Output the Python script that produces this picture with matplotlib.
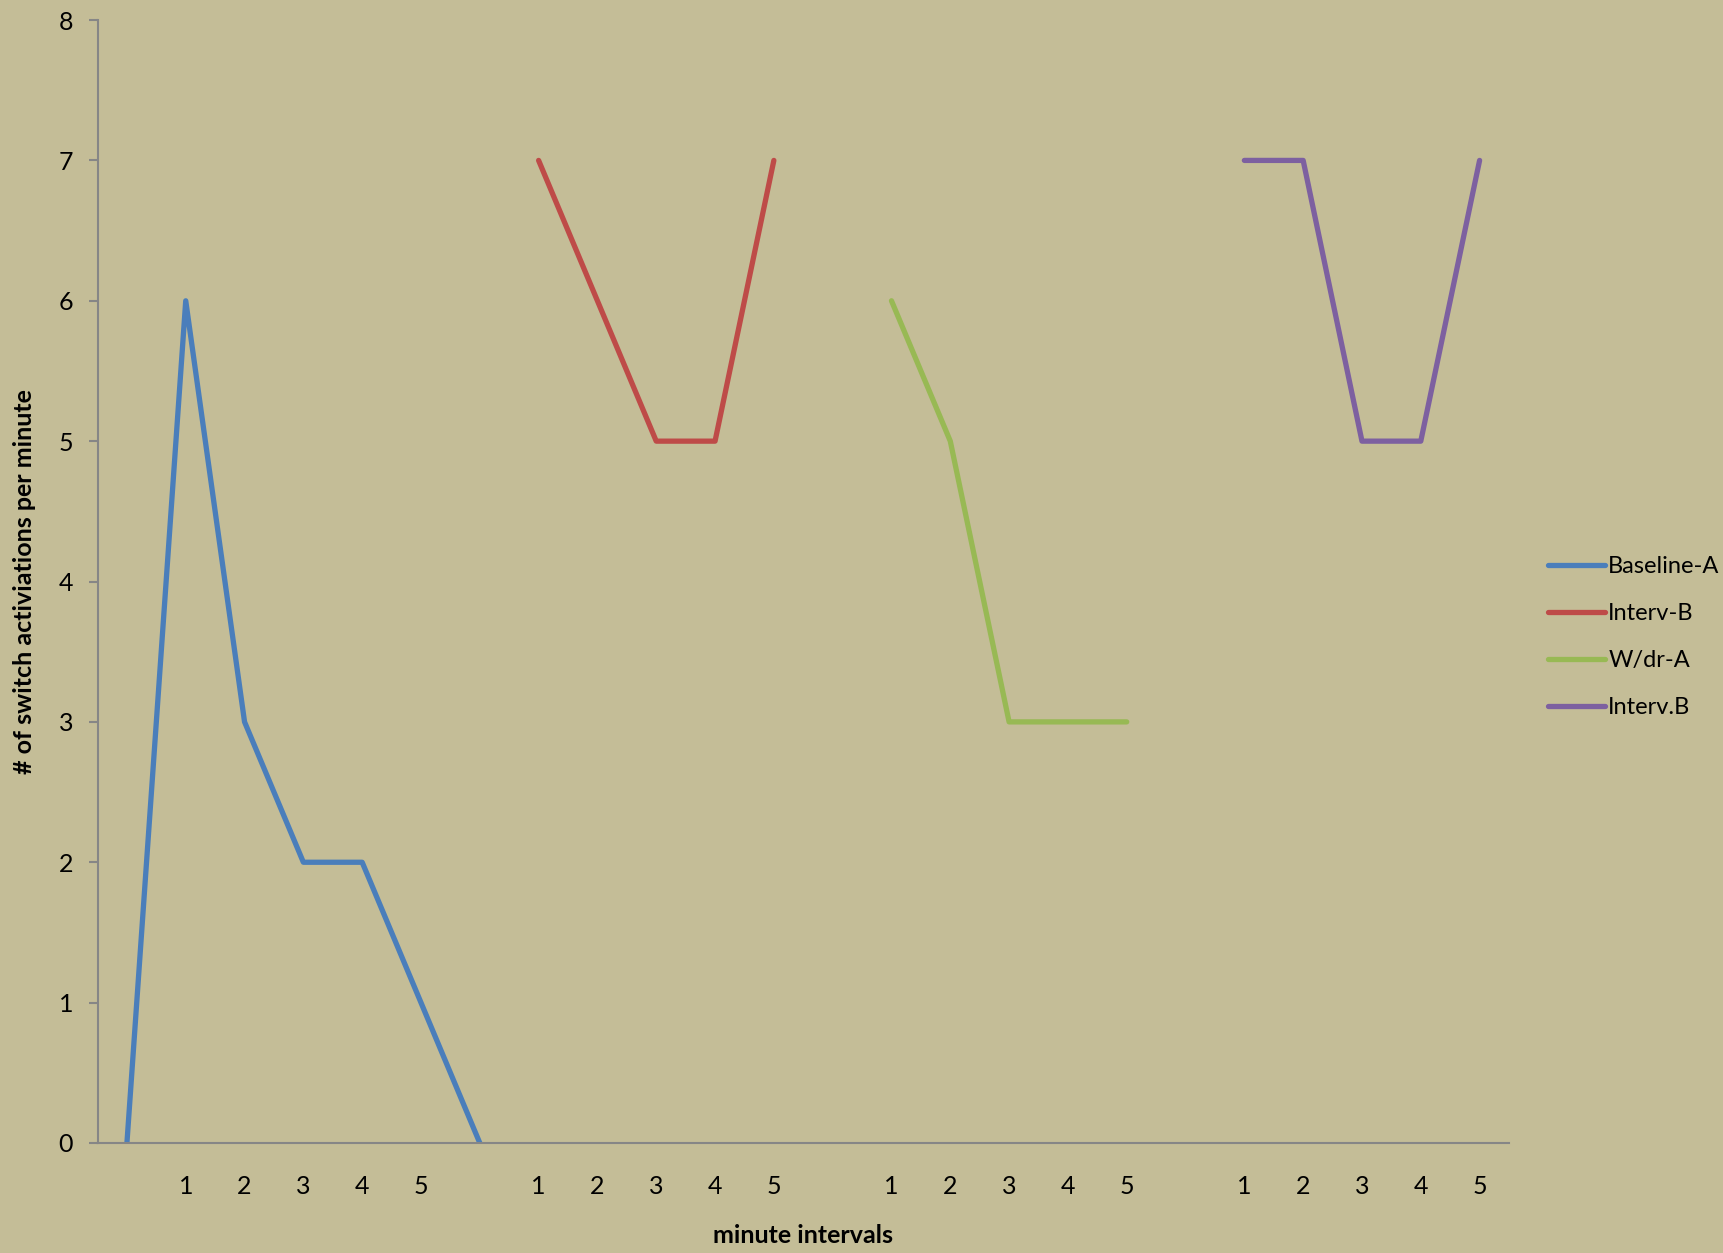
import numpy as np
import matplotlib.pyplot as plt

# ------------------------------------------------------------
# Data : switch activations per minute, four phases
# ------------------------------------------------------------

nan = np.nan

tick_labels = ["", "1", "2", "3", "4", "5",
               "", "1", "2", "3", "4", "5",
               "", "1", "2", "3", "4", "5",
               "", "1", "2", "3", "4", "5"]

baseline_a = [0, 6, 3, 2, 2, 1, 0] + [nan] * 17
interv_b = [nan] * 7 + [7, 6, 5, 5, 7] + [nan] * 12
wdr_a = [nan] * 13 + [6, 5, 3, 3, 3] + [nan] * 6
interv_b2 = [nan] * 19 + [7, 7, 5, 5, 7]

series_names = ["Baseline-A", "Interv-B", "W/dr-A", "Interv.B"]
series_colors = ["#4A7EBB", "#BE4B48", "#98B954", "#7D60A0"]

# ------------------------------------------------------------
# Plot
# ------------------------------------------------------------

plt.rcParams["font.family"] = ["Lato", "DejaVu Sans"]

bg = "#C4BD97"
axis_col = "#868686"

fig = plt.figure(figsize=(17.23, 12.53), dpi=100, facecolor=bg)
ax = fig.add_axes([0.0566, 0.0878, 0.8192, 0.8962])
ax.set_facecolor(bg)

x = np.arange(len(tick_labels))

for values, name, color in zip(
    [baseline_a, interv_b, wdr_a, interv_b2], series_names, series_colors
):
    ax.plot(x, values, color=color, lw=3.8, label=name,
            solid_capstyle="round", solid_joinstyle="round")

ax.set_xlim(-0.5, len(tick_labels) - 0.5)
ax.set_ylim(0, 8)
ax.set_yticks(range(0, 9))
ax.set_xticks(x)
ax.set_xticklabels(tick_labels)

ax.tick_params(axis="x", length=0, pad=23, labelsize=18)
ax.tick_params(axis="y", length=6.5, width=1.5, color=axis_col,
               pad=11, labelsize=18)

for side in ["top", "right"]:
    ax.spines[side].set_visible(False)
for side in ["left", "bottom"]:
    ax.spines[side].set_color(axis_col)
    ax.spines[side].set_linewidth(1.5)

# axis titles
fig.text(0.466, 0.0136, "minute intervals", fontsize=18,
         fontweight="bold", ha="center", va="center")
fig.text(0.0145, 0.536, "# of switch activiations per minute", fontsize=18,
         fontweight="bold", ha="center", va="center", rotation=90)

fig.legend(loc="center left", bbox_to_anchor=(0.893, 0.4916),
           frameon=False, fontsize=17, handlelength=2.4,
           handletextpad=0.15, labelspacing=1.1, borderaxespad=0)

fig.savefig("out.png", dpi=100, facecolor=bg)
